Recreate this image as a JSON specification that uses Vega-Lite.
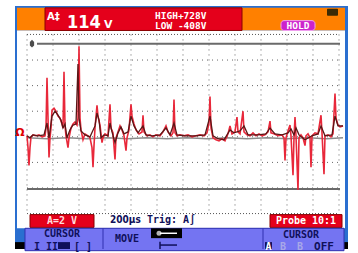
{
  "$schema": "https://vega.github.io/schema/vega-lite/v6.json",
  "width": 358,
  "height": 253,
  "autosize": {"type": "fit", "contains": "padding"},
  "padding": 0,
  "background": "#ffffff",
  "config": {"view": {"stroke": null}, "axis": {"disable": true}},
  "datasets": {
    "red": [
      {"t":0,"V":8},{"t":1,"V":-85},{"t":2,"V":-223},{"t":3,"V":-85},{"t":4,"V":0},{"t":6,"V":15},{"t":9,"V":8},{"t":12,"V":15},{"t":15,"V":0},{"t":18,"V":8},
      {"t":19,"V":69},{"t":20,"V":462},{"t":21,"V":146},{"t":22,"V":-162},{"t":23,"V":-8},{"t":24,"V":69},{"t":25,"V":208},{"t":27,"V":223},{"t":29,"V":200},{"t":31,"V":162},
      {"t":33,"V":146},{"t":35,"V":100},{"t":36,"V":69},{"t":37,"V":508},{"t":38,"V":85},{"t":39,"V":8},{"t":41,"V":-85},{"t":42,"V":-8},{"t":44,"V":69},{"t":46,"V":100},
      {"t":48,"V":115},{"t":50,"V":92},{"t":51,"V":146},{"t":52,"V":708},{"t":53,"V":146},{"t":54,"V":54},{"t":56,"V":-23},{"t":58,"V":23},{"t":61,"V":8},{"t":63,"V":-8},
      {"t":65,"V":-85},{"t":66,"V":-238},{"t":67,"V":-69},{"t":68,"V":69},{"t":70,"V":246},{"t":71,"V":162},{"t":73,"V":92},{"t":75,"V":-46},{"t":76,"V":-8},{"t":78,"V":23},
      {"t":81,"V":8},{"t":83,"V":254},{"t":84,"V":69},{"t":86,"V":31},{"t":88,"V":-177},{"t":89,"V":-8},{"t":91,"V":38},{"t":93,"V":85},{"t":95,"V":54},{"t":97,"V":8},
      {"t":99,"V":-108},{"t":100,"V":-8},{"t":102,"V":54},{"t":104,"V":254},{"t":105,"V":162},{"t":107,"V":100},{"t":109,"V":54},{"t":112,"V":23},{"t":115,"V":38},{"t":116,"V":169},
      {"t":117,"V":38},{"t":120,"V":8},{"t":123,"V":15},{"t":126,"V":0},{"t":129,"V":15},{"t":133,"V":8},{"t":136,"V":38},{"t":139,"V":85},{"t":141,"V":38},{"t":144,"V":8},
      {"t":146,"V":31},{"t":147,"V":292},{"t":148,"V":31},{"t":150,"V":8},{"t":153,"V":15},{"t":157,"V":8},{"t":161,"V":15},{"t":165,"V":0},{"t":169,"V":8},{"t":173,"V":15},
      {"t":177,"V":8},{"t":180,"V":31},{"t":182,"V":108},{"t":183,"V":315},{"t":184,"V":69},{"t":186,"V":-8},{"t":189,"V":-23},{"t":192,"V":-31},{"t":195,"V":-15},{"t":198,"V":-31},
      {"t":201,"V":23},{"t":203,"V":85},{"t":205,"V":23},{"t":208,"V":38},{"t":210,"V":154},{"t":211,"V":38},{"t":213,"V":23},{"t":216,"V":200},{"t":217,"V":38},{"t":220,"V":15},
      {"t":223,"V":8},{"t":226,"V":31},{"t":229,"V":8},{"t":232,"V":23},{"t":235,"V":8},{"t":238,"V":15},{"t":241,"V":38},{"t":243,"V":123},{"t":244,"V":31},{"t":247,"V":23},
      {"t":251,"V":8},{"t":255,"V":15},{"t":257,"V":-8},{"t":258,"V":-185},{"t":259,"V":-8},{"t":261,"V":46},{"t":263,"V":92},{"t":264,"V":8},{"t":266,"V":-300},{"t":267,"V":-8},
      {"t":268,"V":154},{"t":269,"V":8},{"t":271,"V":-415},{"t":272,"V":-8},{"t":274,"V":15},{"t":276,"V":-8},{"t":278,"V":-69},{"t":279,"V":8},{"t":281,"V":23},{"t":283,"V":-8},
      {"t":284,"V":-238},{"t":285,"V":8},{"t":288,"V":31},{"t":291,"V":23},{"t":294,"V":169},{"t":295,"V":31},{"t":297,"V":-292},{"t":298,"V":8},{"t":301,"V":15},{"t":304,"V":0},
      {"t":306,"V":23},{"t":308,"V":338},{"t":309,"V":146},{"t":311,"V":92},{"t":313,"V":77},{"t":316,"V":85}
    ],
    "dark": [
      {"t":0,"V":8},{"t":3,"V":-8},{"t":6,"V":15},{"t":11,"V":8},{"t":17,"V":15},{"t":20,"V":108},{"t":22,"V":-8},{"t":25,"V":162},{"t":28,"V":200},{"t":31,"V":169},
      {"t":34,"V":131},{"t":36,"V":69},{"t":38,"V":100},{"t":40,"V":-8},{"t":43,"V":54},{"t":46,"V":92},{"t":49,"V":100},{"t":51,"V":569},{"t":52,"V":146},{"t":54,"V":46},
      {"t":58,"V":15},{"t":63,"V":0},{"t":68,"V":85},{"t":70,"V":185},{"t":72,"V":131},{"t":74,"V":-8},{"t":77,"V":15},{"t":81,"V":8},{"t":83,"V":108},{"t":85,"V":38},
      {"t":88,"V":-46},{"t":91,"V":31},{"t":94,"V":77},{"t":97,"V":23},{"t":101,"V":38},{"t":104,"V":162},{"t":107,"V":85},{"t":111,"V":31},{"t":116,"V":85},{"t":119,"V":15},
      {"t":125,"V":8},{"t":133,"V":15},{"t":139,"V":69},{"t":143,"V":15},{"t":147,"V":108},{"t":150,"V":15},{"t":158,"V":8},{"t":168,"V":8},{"t":178,"V":15},{"t":183,"V":162},
      {"t":186,"V":8},{"t":191,"V":-15},{"t":197,"V":-23},{"t":203,"V":54},{"t":207,"V":31},{"t":213,"V":46},{"t":217,"V":85},{"t":221,"V":15},{"t":231,"V":15},{"t":239,"V":23},
      {"t":243,"V":69},{"t":248,"V":23},{"t":255,"V":15},{"t":261,"V":31},{"t":264,"V":62},{"t":267,"V":15},{"t":269,"V":69},{"t":272,"V":15},{"t":278,"V":-23},{"t":285,"V":8},
      {"t":291,"V":23},{"t":294,"V":85},{"t":298,"V":8},{"t":305,"V":15},{"t":308,"V":162},{"t":311,"V":85},{"t":316,"V":85}
    ],
    "ref": [
      {"t":0,"V":-8},{"t":20,"V":-15},{"t":40,"V":-8},{"t":60,"V":-15},{"t":80,"V":-8},{"t":100,"V":-15},{"t":120,"V":-8},{"t":140,"V":-15},{"t":160,"V":-8},{"t":180,"V":-15},
      {"t":200,"V":-8},{"t":220,"V":-15},{"t":240,"V":-8},{"t":260,"V":-15},{"t":280,"V":-8},{"t":300,"V":-15},{"t":316,"V":-8}
    ],
    "vgrid": [{"t":0},{"t":26},{"t":52},{"t":78},{"t":104},{"t":130},{"t":156},{"t":182},{"t":208},{"t":234},{"t":260},{"t":286},{"t":312}],
    "hgrid": [{"V":600},{"V":400},{"V":200},{"V":0},{"V":-200},{"V":-400}],
    "edge": [{"V":800},{"V":-600}]
  },
  "layer": [
    {"data":{"values":[{}]},"mark":{"type":"rect","color":"#2a6fd0"},
     "encoding":{"x":{"datum":-12,"type":"quantitative","scale":{"domain":[-27,331],"nice":false,"zero":false}},"x2":{"datum":321},
                 "y":{"datum":1023,"type":"quantitative","scale":{"domain":[-876.9,1069.2],"nice":false,"zero":false}},"y2":{"datum":-877}}},
    {"data":{"values":[{}]},"mark":{"type":"rect","color":"#ff8000"},
     "encoding":{"x":{"datum":-10},"x2":{"datum":318},"y":{"datum":1008},"y2":{"datum":831}}},
    {"data":{"values":[{}]},"mark":{"type":"rect","color":"#ffffff"},
     "encoding":{"x":{"datum":-10},"x2":{"datum":318},"y":{"datum":831},"y2":{"datum":-715}}},
    {"data":{"values":[{}]},"mark":{"type":"rect","color":"#000000"},
     "encoding":{"x":{"datum":-12},"x2":{"datum":-2},"y":{"datum":-823},"y2":{"datum":-877}}},
    {"data":{"values":[{}]},"mark":{"type":"rect","color":"#000000"},
     "encoding":{"x":{"datum":317},"x2":{"datum":321},"y":{"datum":-823},"y2":{"datum":-877}}},
    {"data":{"values":[{}]},"mark":{"type":"rect","fill":"#e4001b","stroke":"#8a0000","strokeWidth":1},
     "encoding":{"x":{"datum":18},"x2":{"datum":215},"y":{"datum":1008},"y2":{"datum":831}}},
    {"data":{"values":[{}]},"mark":{"type":"rect","fill":"#cc22cc","stroke":"#f0a0f0","strokeWidth":1,"cornerRadius":3},
     "encoding":{"x":{"datum":254},"x2":{"datum":288},"y":{"datum":908},"y2":{"datum":831}}},
    {"data":{"values":[{}]},"mark":{"type":"rect","fill":"#3b2a05","cornerRadius":1},
     "encoding":{"x":{"datum":300},"x2":{"datum":311},"y":{"datum":1000},"y2":{"datum":946}}},
    {"data":{"name":"vgrid"},"mark":{"type":"rule","color":"#666666","strokeWidth":1,"strokeDash":[1,4]},
     "encoding":{"x":{"field":"t","type":"quantitative"},"y":{"datum":800},"y2":{"datum":-600}}},
    {"data":{"name":"hgrid"},"mark":{"type":"rule","color":"#666666","strokeWidth":1,"strokeDash":[1,4]},
     "encoding":{"y":{"field":"V","type":"quantitative"},"x":{"datum":0},"x2":{"datum":312}}},
    {"data":{"name":"edge"},"mark":{"type":"rule","color":"#555555","strokeWidth":1,"strokeDash":[1,2]},
     "encoding":{"y":{"field":"V","type":"quantitative"},"x":{"datum":0},"x2":{"datum":312}}},
    {"data":{"values":[{"V":728}]},"mark":{"type":"rule","color":"#6a6a6a","strokeWidth":2},
     "encoding":{"y":{"field":"V","type":"quantitative"},"x":{"datum":10},"x2":{"datum":313}}},
    {"data":{"values":[{"V":-408}]},"mark":{"type":"rule","color":"#6a6a6a","strokeWidth":2},
     "encoding":{"y":{"field":"V","type":"quantitative"},"x":{"datum":0},"x2":{"datum":313}}},
    {"data":{"values":[{"V":728}]},"mark":{"type":"point","filled":true,"color":"#000000","size":60,"shape":"M0,-1L0.55,-0.45L0.55,0.45L0,1L-0.55,0.45L-0.55,-0.45Z"},
     "encoding":{"y":{"field":"V","type":"quantitative"},"x":{"datum":5}}},
    {"data":{"name":"ref"},"mark":{"type":"line","color":"#8c8c8c","strokeWidth":1.5},
     "encoding":{"x":{"field":"t","type":"quantitative"},"y":{"field":"V","type":"quantitative"}}},
    {"data":{"name":"red"},"mark":{"type":"line","color":"#e8283a","strokeWidth":1.6},
     "encoding":{"x":{"field":"t","type":"quantitative"},"y":{"field":"V","type":"quantitative"}}},
    {"data":{"name":"dark"},"mark":{"type":"line","color":"#5a1616","strokeWidth":1.3},
     "encoding":{"x":{"field":"t","type":"quantitative"},"y":{"field":"V","type":"quantitative"}}},
    {"data":{"values":[{}]},"mark":{"type":"text","text":"Ω","color":"#e00000","fontSize":11,"fontWeight":"bold","font":"DejaVu Sans","baseline":"middle","align":"center"},
     "encoding":{"x":{"datum":-7},"y":{"datum":27}}},
    {"data":{"values":[{}]},"mark":{"type":"rect","fill":"#e4001b","stroke":"#8a0000","strokeWidth":1},
     "encoding":{"x":{"datum":3},"x2":{"datum":67},"y":{"datum":-608},"y2":{"datum":-708}}},
    {"data":{"values":[{}]},"mark":{"type":"rect","fill":"#e4001b","stroke":"#8a0000","strokeWidth":1},
     "encoding":{"x":{"datum":243},"x2":{"datum":315},"y":{"datum":-608},"y2":{"datum":-708}}},
    {"data":{"values":[{}]},"mark":{"type":"rect","fill":"#7474f2","stroke":"#3030b0","strokeWidth":1},
     "encoding":{"x":{"datum":-2},"x2":{"datum":317},"y":{"datum":-715},"y2":{"datum":-890}}},
    {"data":{"values":[{"t":76},{"t":236}]},"mark":{"type":"rule","color":"#3030b0","strokeWidth":1},
     "encoding":{"x":{"field":"t","type":"quantitative"},"y":{"datum":-715},"y2":{"datum":-877}}},
    {"data":{"values":[{}]},"mark":{"type":"rect","fill":"#000000"},
     "encoding":{"x":{"datum":124},"x2":{"datum":155},"y":{"datum":-715},"y2":{"datum":-792}}},
    {"data":{"values":[{}]},"mark":{"type":"rule","color":"#ffffff","strokeWidth":1.5},
     "encoding":{"x":{"datum":133},"x2":{"datum":150},"y":{"datum":-754}}},
    {"data":{"values":[{}]},"mark":{"type":"point","filled":true,"color":"#ffffff","size":25,"shape":"circle"},
     "encoding":{"x":{"datum":132},"y":{"datum":-754}}},
    {"data":{"values":[{}]},"mark":{"type":"rule","color":"#10105a","strokeWidth":1.5},
     "encoding":{"x":{"datum":133},"x2":{"datum":150},"y":{"datum":-846}}},
    {"data":{"values":[{}]},"mark":{"type":"rule","color":"#10105a","strokeWidth":1.5},
     "encoding":{"x":{"datum":133},"y":{"datum":-820},"y2":{"datum":-877}}},
    {"data":{"values":[{}]},"mark":{"type":"rect","fill":"#10105a"},
     "encoding":{"x":{"datum":238},"x2":{"datum":245},"y":{"datum":-823},"y2":{"datum":-877}}},
    {"data":{"values":[{}]},"mark":{"type":"rect","fill":"#10105a"},
     "encoding":{"x":{"datum":31},"x2":{"datum":43},"y":{"datum":-823},"y2":{"datum":-877}}},
    {"data":{"values":[{}]},"mark":{"type":"text","text":"A‡","color":"#ffffff","fontSize":10,"fontWeight":"bold","font":"DejaVu Sans","align":"left","baseline":"alphabetic"},
     "encoding":{"x":{"datum":20},"y":{"datum":915}}},
    {"data":{"values":[{}]},"mark":{"type":"text","text":"114","color":"#ffffff","fontSize":18,"fontWeight":"bold","font":"DejaVu Sans Condensed","align":"left","baseline":"alphabetic"},
     "encoding":{"x":{"datum":40},"y":{"datum":854}}},
    {"data":{"values":[{}]},"mark":{"type":"text","text":"V","color":"#ffffff","fontSize":11,"fontWeight":"bold","font":"DejaVu Sans","align":"left","baseline":"alphabetic"},
     "encoding":{"x":{"datum":77},"y":{"datum":854}}},
    {"data":{"values":[{"label":"HIGH+728V","V":923},{"label":"LOW -408V","V":846}]},"mark":{"type":"text","color":"#ffffff","fontSize":9.5,"fontWeight":"bold","font":"DejaVu Sans Mono","align":"left","baseline":"alphabetic"},
     "encoding":{"text":{"field":"label"},"y":{"field":"V","type":"quantitative"},"x":{"datum":128}}},
    {"data":{"values":[{}]},"mark":{"type":"text","text":"HOLD","color":"#ffffff","fontSize":9.5,"fontWeight":"bold","font":"DejaVu Sans Mono","align":"center","baseline":"middle"},
     "encoding":{"x":{"datum":271},"y":{"datum":869}}},
    {"data":{"values":[{}]},"mark":{"type":"text","text":"A=2 V","color":"#ffdcdc","fontSize":10,"fontWeight":"bold","font":"DejaVu Sans Mono","align":"center","baseline":"middle"},
     "encoding":{"x":{"datum":35},"y":{"datum":-658}}},
    {"data":{"values":[{}]},"mark":{"type":"text","text":"200µs","color":"#10105a","fontSize":10,"fontWeight":"bold","font":"DejaVu Sans Condensed","align":"left","baseline":"middle"},
     "encoding":{"x":{"datum":83},"y":{"datum":-654}}},
    {"data":{"values":[{}]},"mark":{"type":"text","text":"Trig: A∫","color":"#10105a","fontSize":10,"fontWeight":"bold","font":"DejaVu Sans Mono","align":"left","baseline":"middle"},
     "encoding":{"x":{"datum":120},"y":{"datum":-654}}},
    {"data":{"values":[{}]},"mark":{"type":"text","text":"Probe 10:1","color":"#ffffff","fontSize":10,"fontWeight":"bold","font":"DejaVu Sans Mono","align":"center","baseline":"middle"},
     "encoding":{"x":{"datum":279},"y":{"datum":-658}}},
    {"data":{"values":[{"label":"CURSOR","t":35,"V":-762},{"label":"MOVE","t":100,"V":-800},{"label":"CURSOR","t":274,"V":-769}]},"mark":{"type":"text","color":"#10105a","fontSize":10,"fontWeight":"bold","font":"DejaVu Sans Mono","align":"center","baseline":"middle"},
     "encoding":{"text":{"field":"label"},"x":{"field":"t","type":"quantitative"},"y":{"field":"V","type":"quantitative"}}},
    {"data":{"values":[{"label":"I II","t":7},{"label":"[ ]","t":47}]},"mark":{"type":"text","color":"#10105a","fontSize":10,"fontWeight":"bold","font":"DejaVu Sans Mono","align":"left","baseline":"middle"},
     "encoding":{"text":{"field":"label"},"x":{"field":"t","type":"quantitative"},"y":{"datum":-862}}},
    {"data":{"values":[{}]},"mark":{"type":"text","text":"A","color":"#ffffff","fontSize":10,"fontWeight":"bold","font":"DejaVu Sans Mono","align":"center","baseline":"middle"},
     "encoding":{"x":{"datum":241.5},"y":{"datum":-858}}},
    {"data":{"values":[{"label":"B","t":256},{"label":"B","t":273}]},"mark":{"type":"text","color":"#a8a8e8","fontSize":10,"fontWeight":"bold","font":"DejaVu Sans Mono","align":"center","baseline":"middle"},
     "encoding":{"text":{"field":"label"},"x":{"field":"t","type":"quantitative"},"y":{"datum":-858}}},
    {"data":{"values":[{}]},"mark":{"type":"text","text":"OFF","color":"#10105a","fontSize":11,"fontWeight":"bold","font":"DejaVu Sans Mono","align":"center","baseline":"middle"},
     "encoding":{"x":{"datum":297},"y":{"datum":-858}}}
  ]
}
